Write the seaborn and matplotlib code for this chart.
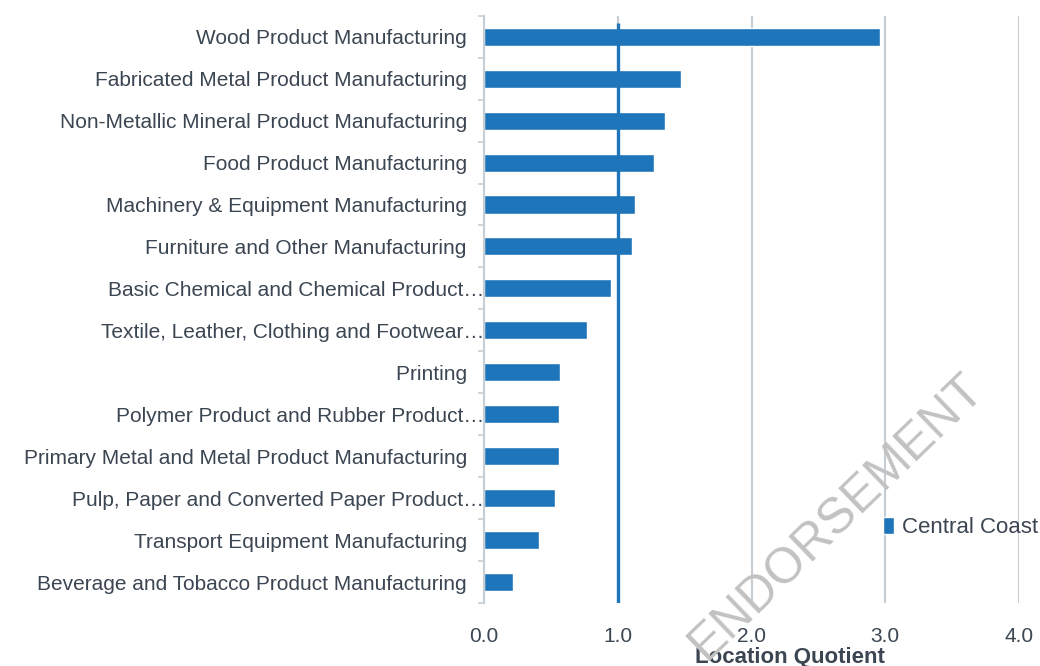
import numpy as np
import pandas as pd
import matplotlib
matplotlib.use("Agg")
import matplotlib.pyplot as plt
import seaborn as sns

# data
industries = [
    "Wood Product Manufacturing",
    "Fabricated Metal Product Manufacturing",
    "Non-Metallic Mineral Product Manufacturing",
    "Food Product Manufacturing",
    "Machinery & Equipment Manufacturing",
    "Furniture and Other Manufacturing",
    "Basic Chemical and Chemical Product\u2026",
    "Textile, Leather, Clothing and Footwear\u2026",
    "Printing",
    "Polymer Product and Rubber Product\u2026",
    "Primary Metal and Metal Product Manufacturing",
    "Pulp, Paper and Converted Paper Product\u2026",
    "Transport Equipment Manufacturing",
    "Beverage and Tobacco Product Manufacturing",
]
lq_values = [2.96, 1.47, 1.35, 1.27, 1.13, 1.11, 0.95, 0.77,
             0.57, 0.56, 0.56, 0.53, 0.41, 0.22]
region = "Central Coast"
x_ticks = [0.0, 1.0, 2.0, 3.0, 4.0]
benchmark = 1.0

BLUE = "#1f75b9"
TEXT = "#3b4652"
GRID = "#c6ced5"

sns.set_theme(style="white")
plt.rcParams["font.family"] = ["Liberation Sans", "DejaVu Sans"]

df = pd.DataFrame({"industry": industries, "lq": lq_values, "region": region})
n = len(industries)

fig = plt.figure(figsize=(10.4, 6.66), dpi=100)
ax = fig.add_axes([0.4654, 0.0946, 0.5144, 0.8818])

sns.barplot(data=df, x="lq", y="industry", hue="region", palette=[BLUE],
            width=0.43, ax=ax, legend=True, saturation=1)

ax.set_xlim(0, 4)
ax.set_ylim(n - 0.5, -0.5)
ax.set_xticks(x_ticks)
ax.set_xticklabels([f"{t:.1f}" for t in x_ticks], color=TEXT, fontsize=15)
ax.tick_params(axis="x", length=0, pad=17)

# labels: truncated ones run right up to the axis
labels = [s if s.endswith("\u2026") else s + "   " for s in industries]
ax.set_yticks(range(n))
ax.set_yticklabels(labels, color=TEXT, fontsize=15)
ax.tick_params(axis="y", which="major", left=False, pad=-6)
ax.set_yticks(np.arange(-0.5, n, 1.0), minor=True)
ax.tick_params(axis="y", which="minor", left=True, length=4, width=1.2, color=GRID)

for x in x_ticks[1:]:
    ax.axvline(x, color=GRID, lw=1.5, zorder=0)

ax.vlines(benchmark, -0.33, n - 0.5, color=BLUE, lw=2.4, zorder=3)

for s in ["top", "right", "bottom"]:
    ax.spines[s].set_visible(False)
ax.spines["left"].set_color(GRID)
ax.spines["left"].set_linewidth(1.5)

ax.set_ylabel("")
ax.set_xlabel("Location Quotient", fontsize=16, fontweight="bold", color=TEXT)
ax.xaxis.set_label_coords(0.572, -0.075)

ax.legend(loc="center left", bbox_to_anchor=(0.729, 0.129), frameon=False,
          handlelength=0.5, handleheight=0.8, handletextpad=0.35,
          fontsize=16, labelcolor=TEXT, borderaxespad=0)

fig.text(0.805, 0.225, "ENDORSEMENT", rotation=44, fontsize=36, color="#c2c2c2",
         ha="center", va="center", zorder=10)

fig.savefig("out.png", dpi=100)
